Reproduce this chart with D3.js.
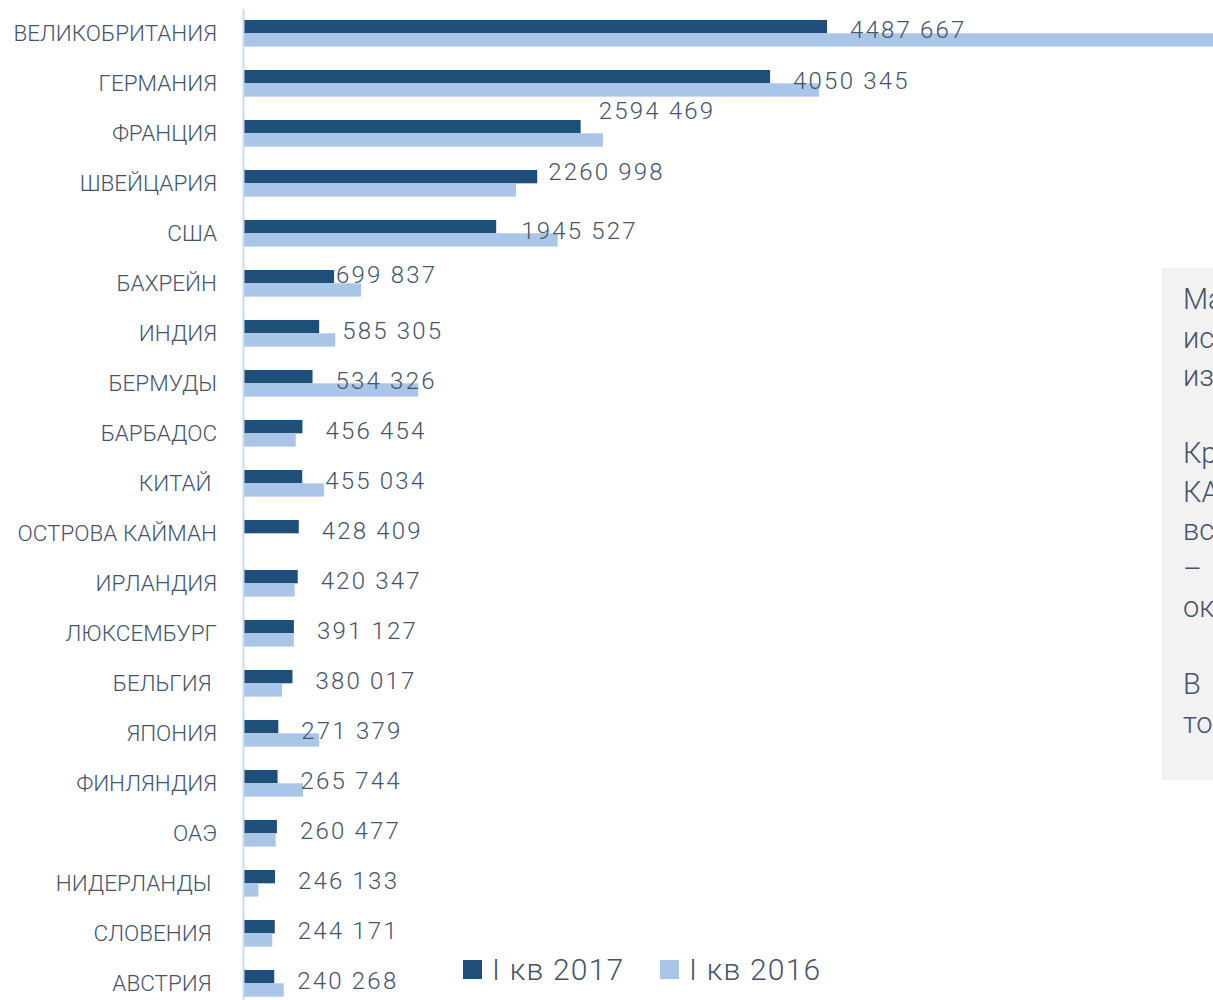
<html>
  <head>
    <meta charset="utf-8" />
    <title>Исходящие инвестиции по странам</title>
    <script src="https://d3js.org/d3.v7.min.js"></script>
    <style>
      body { margin: 0; background: #fff; }
      svg text { font-family: Roboto, "Open Sans", sans-serif; font-weight: 300; }
    </style>
  </head>
  <body>
    <div id="figure"></div>

    <script type="text/javascript">
      // categories, top to bottom (some source labels carry a trailing space)
      var countries = [
        "ВЕЛИКОБРИТАНИЯ", "ГЕРМАНИЯ", "ФРАНЦИЯ", "ШВЕЙЦАРИЯ", "США",
        "БАХРЕЙН", "ИНДИЯ", "БЕРМУДЫ", "БАРБАДОС", "КИТАЙ ",
        "ОСТРОВА КАЙМАН", "ИРЛАНДИЯ", "ЛЮКСЕМБУРГ", "БЕЛЬГИЯ ", "ЯПОНИЯ",
        "ФИНЛЯНДИЯ", "ОАЭ", "НИДЕРЛАНДЫ ", "СЛОВЕНИЯ ", "АВСТРИЯ "
      ];
      var seriesNames = ["I кв 2017", "I кв 2016"];
      var q1_2017 = [
        4487667, 4050345, 2594469, 2260998, 1945527,
        699837, 585305, 534326, 456454, 455034,
        428409, 420347, 391127, 380017, 271379,
        265744, 260477, 246133, 244171, 240268
      ];
      // 2016 values (no labels in the source)
      var q1_2016 = [
        7600000, 4426000, 2766000, 2098000, 2418000,
        907000, 709000, 1347000, 405000, 622000,
        0, 397000, 390000, 300000, 586000,
        461000, 251000, 118000, 225000, 313000
      ];
      var noteLines = [
        "Масштабы", "исходящих", "из России", "",
        "Крупнейшие", "КАПИТАЛЫ", "все", "–", "около", "",
        "В", "том числе"
      ];

      var width = 1213;
      var height = 1000;
      var dark = "#1f4e79";
      var light = "#a9c6e8";
      var textColor = "#44546a";

      // hand-moved data labels in the original (px)
      var labelNudge = {
        0: [0, -1], 2: [-5, -19.5], 3: [-12, -9], 4: [2, 0], 5: [-21, -5.5]
      };

      var svg = d3
        .select("#figure")
        .append("svg")
        .attr("width", width)
        .attr("height", height);

      // grey note box on the right, cut by the picture edge
      svg.append("rect")
        .attr("x", 1162).attr("y", 268)
        .attr("width", 80).attr("height", 512)
        .attr("fill", "#f2f2f2");

      svg.append("g")
        .selectAll("text")
        .data(noteLines)
        .join("text")
        .attr("x", 1183)
        .attr("y", function (d, i) { return 309 + i * 38.5; })
        .attr("fill", textColor)
        .style("font-size", "29px")
        .text(function (d) { return d; });

      var x = d3.scaleLinear().domain([0, 8000000]).range([243, 1284.1]);

      var y = d3
        .scaleBand()
        .domain(countries)
        .range([8.3, 1008.3])
        .paddingInner(0.4667)
        .paddingOuter(0.2333);

      var y1 = d3
        .scaleBand()
        .domain(seriesNames)
        .range([0, y.bandwidth()]);

      var rows = countries.map(function (c, i) {
        return { country: c, i: i, values: [q1_2017[i], q1_2016[i]] };
      });

      var groups = svg
        .append("g")
        .selectAll("g")
        .data(rows)
        .join("g")
        .attr("transform", function (d) { return "translate(0," + y(d.country) + ")"; });

      groups
        .selectAll("rect")
        .data(function (d) {
          return d.values.map(function (v, k) { return { key: seriesNames[k], value: v }; });
        })
        .join("rect")
        .attr("x", x(0))
        .attr("y", function (d) { return y1(d.key); })
        .attr("height", y1.bandwidth())
        .attr("width", function (d) { return x(d.value) - x(0); })
        .attr("fill", function (d, k) { return k === 0 ? dark : light; });

      // category axis
      var axis = svg
        .append("g")
        .attr("transform", "translate(" + x(0) + ",0)")
        .call(d3.axisLeft(y).tickSize(0).tickPadding(26));

      axis.select(".domain").attr("stroke", "#c6dbf0").attr("stroke-width", 2);
      axis
        .selectAll("text")
        .attr("fill", textColor)
        .attr("dy", null)
        .attr("y", 8)
        .style("font-size", "22.5px")
        .style("font-family", "Roboto, sans-serif")
        .style("font-weight", 300)
        .style("white-space", "pre");

      // data labels for I кв 2017, written like "4487 667"
      var fmt = function (v) {
        var rest = d3.format("03d")(v % 1000);
        return v >= 1000 ? Math.floor(v / 1000) + " " + rest : String(v);
      };

      svg
        .append("g")
        .selectAll("text")
        .data(rows)
        .join("text")
        .attr("x", function (d) {
          var n = labelNudge[d.i] || [0, 0];
          return x(d.values[0]) + 23 + n[0];
        })
        .attr("y", function (d) {
          var n = labelNudge[d.i] || [0, 0];
          return y(d.country) + y.bandwidth() / 2 + 5.5 + n[1];
        })
        .attr("fill", textColor)
        .style("font-size", "24px")
        .style("letter-spacing", "2.2px")
        .text(function (d) { return fmt(d.values[0]); });

      // legend
      var legend = svg
        .append("g")
        .selectAll("g")
        .data(seriesNames)
        .join("g")
        .attr("transform", function (d, k) { return "translate(" + (463 + k * 197) + ",960)"; });

      legend
        .append("rect")
        .attr("width", 19)
        .attr("height", 19)
        .attr("fill", function (d, k) { return k === 0 ? dark : light; });

      legend
        .append("text")
        .attr("x", 29)
        .attr("y", 20)
        .attr("fill", textColor)
        .style("font-size", "30px")
        .style("letter-spacing", "1.2px")
        .text(function (d) { return d; });
    </script>
  </body>
</html>
